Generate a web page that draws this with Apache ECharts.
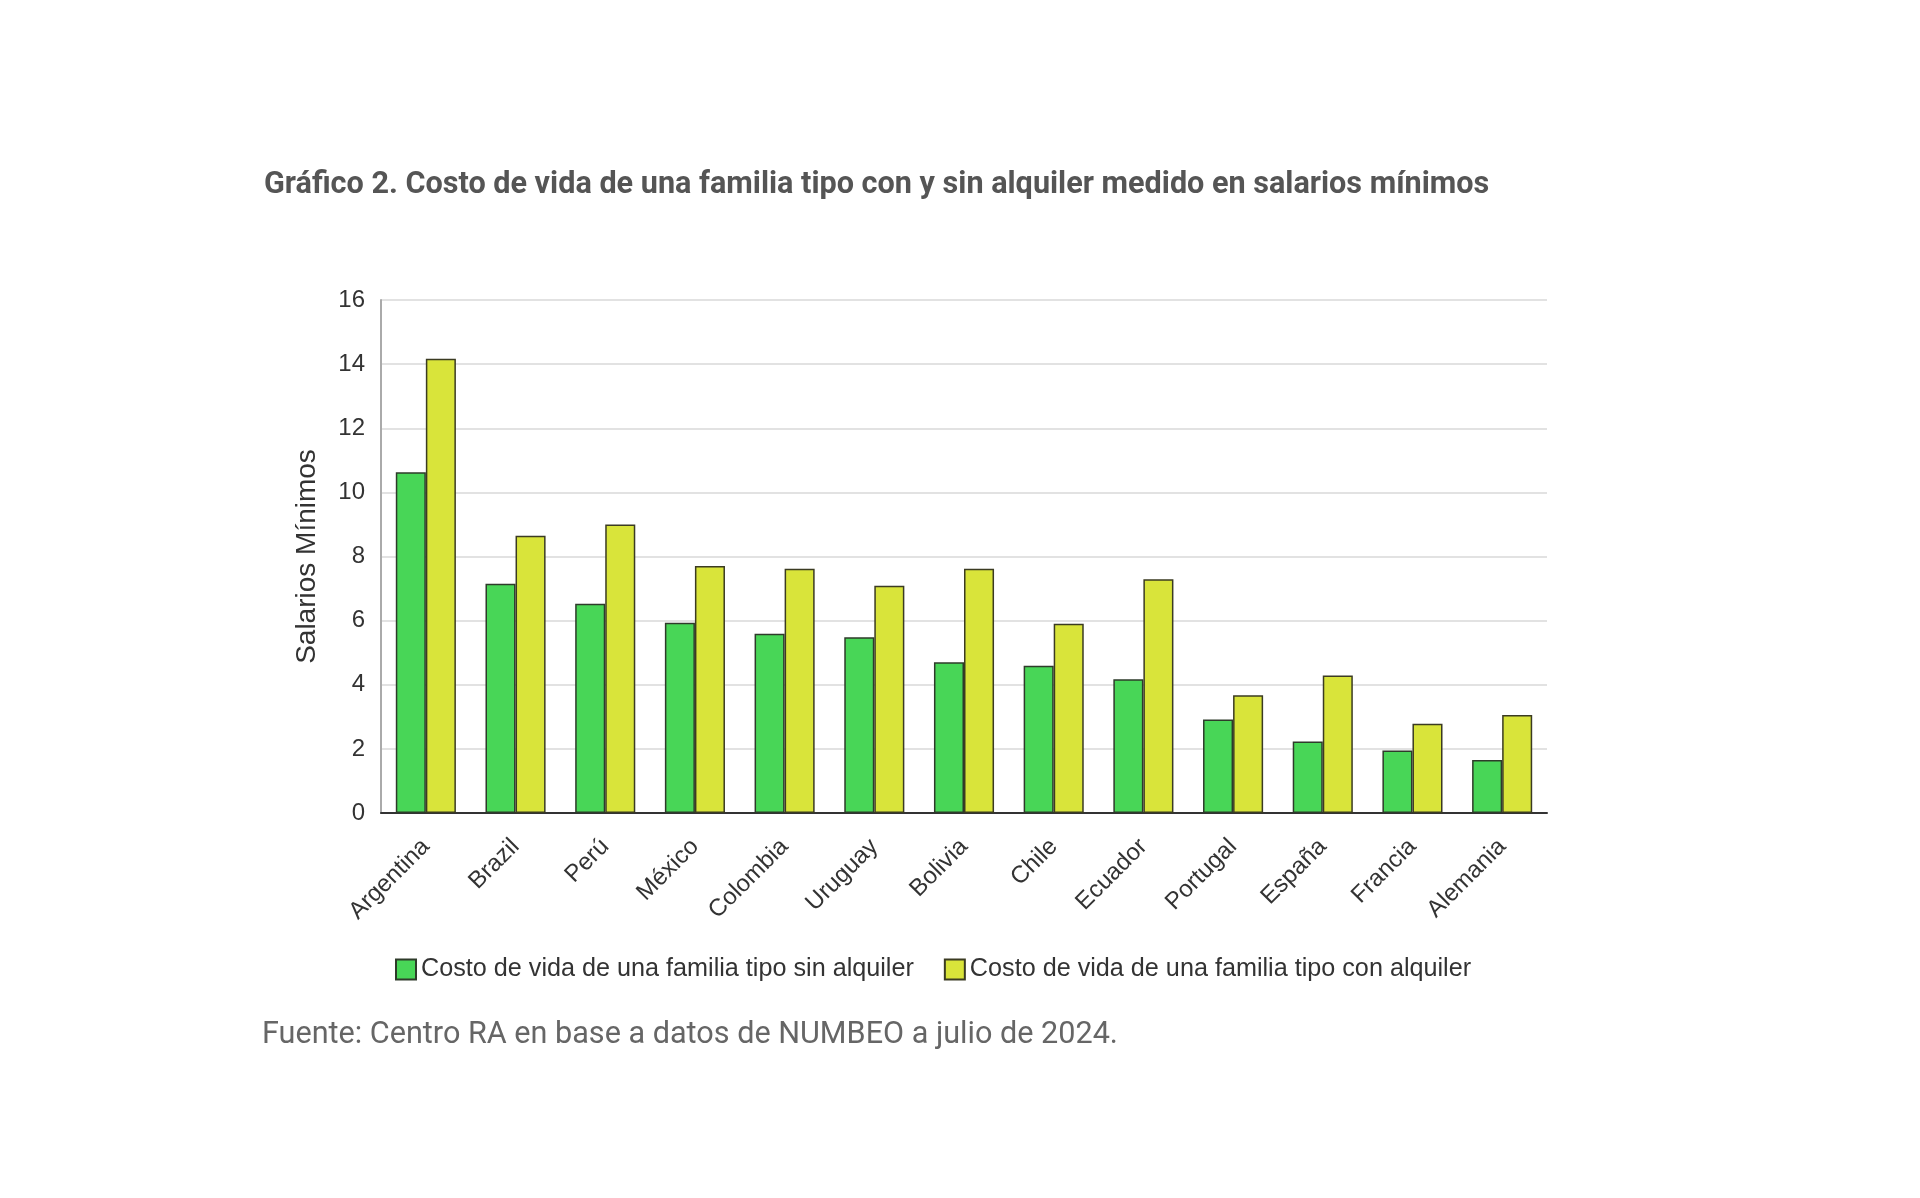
<!DOCTYPE html>
<html>
<head>
<meta charset="utf-8">
<style>html,body{margin:0;padding:0;background:#fff;}#chart{width:1920px;height:1198px;}</style>
<script src="https://cdn.jsdelivr.net/npm/echarts@6/dist/echarts.min.js"></script>
</head>
<body>
<div id="chart"></div>
<script>
const categories = ['Argentina','Brazil','Perú','México','Colombia','Uruguay','Bolivia','Chile','Ecuador','Portugal','España','Francia','Alemania'];
const sinAlquiler = [10.63, 7.15, 6.53, 5.93, 5.59, 5.48, 4.70, 4.59, 4.17, 2.92, 2.23, 1.95, 1.65];
const conAlquiler = [14.17, 8.65, 9.00, 7.70, 7.62, 7.09, 7.62, 5.90, 7.29, 3.67, 4.29, 2.78, 3.06];
const yTicks = [0, 2, 4, 6, 8, 10, 12, 14, 16];
const seriesNames = ['Costo de vida de una familia tipo sin alquiler', 'Costo de vida de una familia tipo con alquiler'];
const titleText = 'Gráfico 2. Costo de vida de una familia tipo con y sin alquiler medido en salarios mínimos';
const sourceText = 'Fuente: Centro RA en base a datos de NUMBEO a julio de 2024.';

const chart = echarts.init(document.getElementById('chart'));
const font = 'Arial, "Liberation Sans", sans-serif';
chart.setOption({
  backgroundColor: '#fff',
  animation: false,
  title: {
    text: titleText,
    left: 259, top: 165,
    textStyle: { fontFamily: 'Roboto', fontWeight: 'bold', fontSize: 30.6, color: '#555' }
  },
  graphic: [{
    type: 'text', left: 262, top: 1020,
    style: { text: sourceText, fontFamily: 'Roboto', fontSize: 30.6, fill: '#666' }
  }],
  legend: {
    left: 390, top: 952,
    itemWidth: 20, itemHeight: 20, itemGap: 30,
    icon: 'rect',
    textStyle: { fontFamily: font, fontSize: 25.2, color: '#333' },
    data: seriesNames
  },
  grid: { left: 381, right: 373, top: 300, bottom: 385, containLabel: false },
  xAxis: {
    type: 'category', data: categories,
    axisLine: { lineStyle: { color: '#333', width: 2 } },
    axisTick: { show: false },
    axisLabel: { rotate: 45, margin: 30, interval: 0, fontFamily: font, fontSize: 24, color: '#333' }
  },
  yAxis: {
    type: 'value', min: yTicks[0], max: yTicks[yTicks.length - 1], interval: 2,
    name: 'Salarios Mínimos', nameLocation: 'middle', nameGap: 60,
    nameTextStyle: { fontFamily: font, fontSize: 28, color: '#333' },
    axisLine: { show: true, lineStyle: { color: '#aaa', width: 2 } },
    axisTick: { show: false },
    axisLabel: { fontFamily: font, fontSize: 24, color: '#333', margin: 16 },
    splitLine: { lineStyle: { color: '#e2e2e2', width: 2 } }
  },
  series: [
    { name: seriesNames[0], type: 'bar', data: sinAlquiler, barGap: '0%', barCategoryGap: '33%',
      itemStyle: { color: '#48d657', borderColor: '#2e3b2a', borderWidth: 1.5 } },
    { name: seriesNames[1], type: 'bar', data: conAlquiler,
      itemStyle: { color: '#d9e43a', borderColor: '#3b3b22', borderWidth: 1.5 } }
  ]
});
</script>
</body>
</html>
